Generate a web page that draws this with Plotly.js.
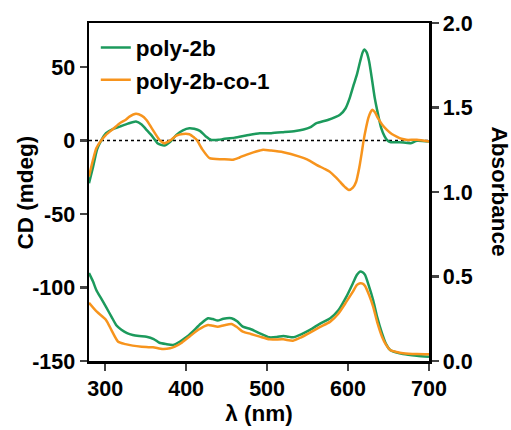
<!DOCTYPE html>
<html>
<head>
<meta charset="utf-8">
<script src="https://cdn.plot.ly/plotly-3.0.1.min.js"></script>
<style>html,body{margin:0;padding:0;background:#fff;}#chart{width:511px;height:430px;}</style>
</head>
<body>
<div id="chart"></div>
<script>
// ---- data ----
const seriesNames = ['poly-2b', 'poly-2b-co-1'];

const cdGreenWl = [280,285,290,295,301,310,318,328,338,345,351,358,365,373,380,388,396,404,410,417,424,431,440,446,460,474,491,505,520,535,545,553,561,575,590,597,602,607,611,615,618,620,623,626,630,633,637,641,645,648,652,664,677,685,700];
const cdGreen   = [-29,-18,-6,0,5,8,9.5,11.5,13,11,7.3,3,-2,-3.4,-1,3.9,7,8.4,8,6.6,3,0.5,0.5,1,2,3.4,5,5,5.7,6.5,7.5,8.9,11.8,14,17.5,22,28.9,38,45,54,60,62,60,54,40,29,18,8.4,3,0.5,-1.1,-1.1,-1.8,-0.2,-0.7];

const cdOrangeWl = [280,285,289,295,301,310,318,325,330,338,345,351,358,367,373,380,388,396,404,410,413,420,429,445,458,466,474,483,491,495,505,520,540,550,561,570,577,585,590,596,601,606,610,614,617,619,622,625,628,630,633,637,642,648,654,660,666,672,685,700];
const cdOrange   = [-24.5,-13,-5.2,0,3.9,8,11.8,14,16.3,18.2,17,14,8,0.5,-1.8,0,3.4,4.5,4.3,2,0.5,-6,-12,-12.7,-13,-11.5,-9.7,-8,-6.8,-6.3,-6.8,-7.9,-10.9,-13,-16.5,-19,-21,-25,-28,-31.5,-33.6,-32,-28,-18,-8,-0.7,8,15.2,19.5,21,19.5,15.2,11,7.3,4.5,2.7,1.2,0.5,0.5,-0.7];

const absGreenWl = [280,285,289,295,301,308,314,320,327,334,342,351,360,367,375,384,392,400,408,418,427,433,439,446,456,463,470,480,491,503,512,520,526,532,542,553,565,578,588,598,606,611,615,618,621,626,631,636,642,647,652,660,668,685,700];
const absGreen   = [0.52,0.47,0.42,0.37,0.32,0.26,0.21,0.185,0.165,0.154,0.148,0.144,0.13,0.108,0.1,0.095,0.114,0.14,0.174,0.22,0.253,0.248,0.239,0.25,0.253,0.235,0.203,0.188,0.164,0.14,0.142,0.148,0.144,0.14,0.158,0.184,0.22,0.253,0.3,0.381,0.46,0.51,0.53,0.525,0.509,0.44,0.361,0.26,0.164,0.1,0.065,0.05,0.041,0.031,0.025];

const absOrangeWl = [280,290,301,308,316,325,334,345,359,371,380,386,395,404,415,427,433,439,447,456,463,470,480,491,503,520,532,542,553,565,578,588,598,606,611,615,618,621,626,631,636,642,647,652,660,668,685,700];
const absOrange   = [0.345,0.29,0.243,0.18,0.114,0.1,0.091,0.085,0.081,0.071,0.075,0.085,0.11,0.144,0.185,0.213,0.208,0.203,0.212,0.219,0.2,0.174,0.16,0.144,0.128,0.128,0.12,0.14,0.168,0.2,0.233,0.28,0.351,0.41,0.45,0.46,0.458,0.444,0.39,0.322,0.23,0.144,0.095,0.065,0.053,0.046,0.041,0.04];

const xTickVals = [300,400,500,600,700];
const cdTickVals = [-150,-100,-50,0,50];
const cdTickText = ['-150','-100','-50','0','50'];
const absTickVals = [0,0.5,1,1.5,2];
const absTickText = ['0.0','0.5','1.0','1.5','2.0'];

// ---- styling ----
const GREEN = '#1c9a5c';
const ORANGE = '#f7941d';
const FONT = 'Liberation Sans, Arial, sans-serif';

const traces = [
  {x: cdGreenWl, y: cdGreen, name: seriesNames[0], type: 'scatter', mode: 'lines',
   line: {color: GREEN, width: 2.5, shape: 'spline', smoothing: 0.6}, yaxis: 'y'},
  {x: cdOrangeWl, y: cdOrange, name: seriesNames[1], type: 'scatter', mode: 'lines',
   line: {color: ORANGE, width: 2.5, shape: 'spline', smoothing: 0.6}, yaxis: 'y'},
  {x: absGreenWl, y: absGreen, name: seriesNames[0], showlegend: false, type: 'scatter', mode: 'lines',
   line: {color: GREEN, width: 2.5, shape: 'spline', smoothing: 0.6}, yaxis: 'y2'},
  {x: absOrangeWl, y: absOrange, name: seriesNames[1], showlegend: false, type: 'scatter', mode: 'lines',
   line: {color: ORANGE, width: 2.5, shape: 'spline', smoothing: 0.6}, yaxis: 'y2'}
];

const tickFont = {family: FONT, size: 21.5, color: '#000', weight: 700};
const titleFont = {family: FONT, size: 22.5, color: '#000', weight: 700};

const layout = {
  width: 511, height: 430,
  margin: {l: 89, r: 82, t: 23, b: 69},
  paper_bgcolor: '#fff', plot_bgcolor: '#fff',
  font: {family: FONT, color: '#000'},
  showlegend: true,
  legend: {x: 0.02, y: 0.99, xanchor: 'left', yanchor: 'top', bgcolor: 'rgba(0,0,0,0)',
           font: {family: FONT, size: 22.5, color: '#000', weight: 700}, tracegroupgap: 0},
  xaxis: {range: [280, 700], tickvals: xTickVals, ticks: 'outside', ticklen: 7, tickwidth: 2.5,
          showline: true, linewidth: 2.5, linecolor: '#000', mirror: true, showgrid: false, zeroline: false,
          tickfont: tickFont, title: {text: 'λ (nm)', font: titleFont, standoff: 4}},
  yaxis: {range: [-150, 80], tickvals: cdTickVals, ticktext: cdTickText, ticks: 'outside', ticklen: 7, tickwidth: 2.5,
          showline: true, linewidth: 2.5, linecolor: '#000', showgrid: false, zeroline: false,
          tickfont: tickFont},
  yaxis2: {range: [0, 2], overlaying: 'y', side: 'right', tickvals: absTickVals, ticktext: absTickText,
           ticks: 'outside', ticklen: 7, tickwidth: 2.5, showline: true, linewidth: 2.5, linecolor: '#000',
           showgrid: false, zeroline: false, tickfont: tickFont},
  shapes: [{type: 'line', xref: 'x', yref: 'y', x0: 280, x1: 700, y0: 0, y1: 0,
            line: {color: '#000', width: 1.5, dash: 'dot'}, layer: 'below'}],
  annotations: [
    {text: 'CD (mdeg)', xref: 'paper', yref: 'paper', x: -0.187, y: 0.5,
     xanchor: 'center', yanchor: 'middle', textangle: -90, showarrow: false, font: titleFont},
    {text: 'Absorbance', xref: 'paper', yref: 'paper', x: 1.21, y: 0.5,
     xanchor: 'center', yanchor: 'middle', textangle: 90, showarrow: false, font: titleFont}
  ]
};

Plotly.newPlot('chart', traces, layout, {displayModeBar: false, staticPlot: true});
</script>
</body>
</html>
